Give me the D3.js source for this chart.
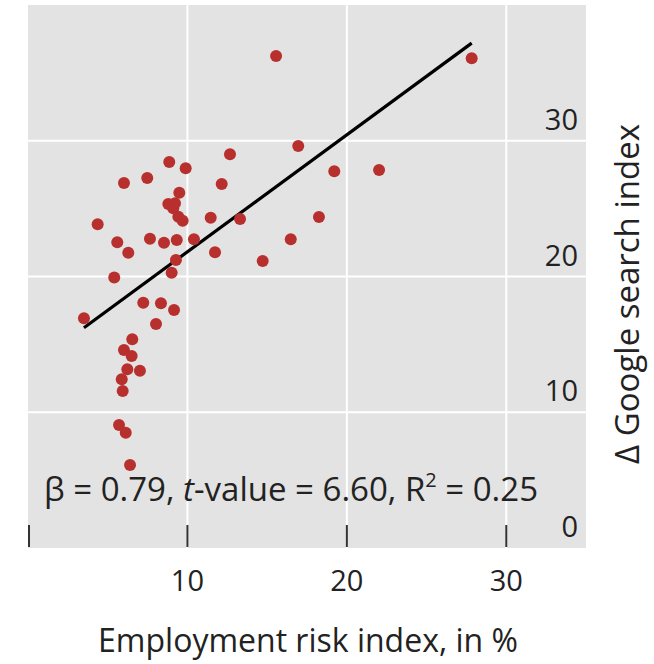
<!DOCTYPE html>
<html>
<head>
<meta charset="utf-8">
<script src="https://cdn.jsdelivr.net/npm/d3@7"></script>
<style>
  html, body { margin: 0; padding: 0; background: #fff; }
  svg { display: block; font-family: "Open Sans", "Noto Sans", sans-serif; }
</style>
</head>
<body>
<svg id="chart" width="654" height="664"></svg>
<script>
// Employment risk index (%) per region
const riskIndex = [
  15.56, 16.95, 12.67, 8.86, 9.89, 6.02, 7.48, 12.15, 9.49, 8.80,
  9.22, 9.11, 9.43, 9.70, 4.37, 11.46, 13.30, 18.25, 5.60, 6.29,
  7.65, 8.53, 9.33, 10.41, 11.73, 16.48, 14.72, 9.28, 9.01, 5.41,
  27.83, 19.21, 22.02, 3.51, 7.23, 8.34, 9.16, 8.03, 6.54, 6.02,
  6.50, 6.23, 7.02, 5.88, 5.94, 5.71, 6.13, 6.40
];
// Change in Google search index per region
const searchDelta = [
  36.24, 29.61, 29.00, 28.43, 27.97, 26.89, 27.26, 26.81, 26.17, 25.34,
  25.39, 25.02, 24.40, 24.11, 23.85, 24.33, 24.24, 24.39, 22.52, 21.75,
  22.78, 22.49, 22.69, 22.74, 21.78, 22.74, 21.14, 21.22, 20.28, 19.93,
  36.07, 27.75, 27.85, 16.92, 18.07, 18.03, 17.53, 16.50, 15.37, 14.59,
  14.14, 13.16, 13.06, 12.43, 11.57, 9.06, 8.49, 6.11
];

// Fitted regression line
const fitIntercept = 13.2;
const fitSlope = 0.862;

// Axis ticks and annotation text
const xTicks = [0, 10, 20, 30];
const xTickLabels = ["", "10", "20", "30"];
const yTicks = [0, 10, 20, 30];
const yTickLabels = ["0", "10", "20", "30"];
const xTitle = "Employment risk index, in %";
const yTitle = "\u0394 Google search index";
const statsBeta = "0.79";
const statsT = "6.60";
const statsR2 = "0.25";

const points = riskIndex.map((x, i) => ({ x, y: searchDelta[i] }));

const svg = d3.select("#chart");
const panel = { left: 28, right: 586, top: 5, bottom: 548 };

const x = d3.scaleLinear().domain([0, 35]).range([panel.left, panel.right]);
const y = d3.scaleLinear().domain([0, 40]).range([panel.bottom, panel.top]);

const textColor = "#222";

// Panel background
svg.append("rect")
  .attr("x", panel.left).attr("y", panel.top)
  .attr("width", panel.right - panel.left)
  .attr("height", panel.bottom - panel.top)
  .attr("fill", "#e3e3e3");

// Grid lines
svg.append("g").selectAll("line")
  .data(xTicks.filter(d => d > 0))
  .join("line")
  .attr("x1", d => x(d)).attr("x2", d => x(d))
  .attr("y1", panel.top).attr("y2", panel.bottom)
  .attr("stroke", "#fff").attr("stroke-width", 2);

svg.append("g").selectAll("line")
  .data(yTicks.filter(d => d > 0))
  .join("line")
  .attr("x1", panel.left).attr("x2", panel.right)
  .attr("y1", d => y(d)).attr("y2", d => y(d))
  .attr("stroke", "#fff").attr("stroke-width", 2);

// x tick marks drawn inside the panel
svg.append("g").selectAll("line")
  .data(xTicks)
  .join("line")
  .attr("x1", d => x(d) + (d === 0 ? 1 : 0))
  .attr("x2", d => x(d) + (d === 0 ? 1 : 0))
  .attr("y1", y(0) - 23).attr("y2", y(0) - 1)
  .attr("stroke", "#333").attr("stroke-width", 2);

// x tick labels
svg.append("g").selectAll("text")
  .data(xTicks)
  .join("text")
  .attr("x", d => x(d))
  .attr("y", 591)
  .attr("text-anchor", "middle")
  .attr("font-size", 29)
  .attr("fill", textColor)
  .text((d, i) => xTickLabels[i]);

// y tick labels sit inside the panel, just above each grid line
svg.append("g").selectAll("text")
  .data(yTicks)
  .join("text")
  .attr("x", 578)
  .attr("y", d => y(d) - 11)
  .attr("text-anchor", "end")
  .attr("font-size", 29)
  .attr("fill", textColor)
  .text((d, i) => yTickLabels[i]);

// Regression line across the observed range
const [xMin, xMax] = d3.extent(riskIndex);
const line = d3.line().x(d => x(d[0])).y(d => y(d[1]));
svg.append("path")
  .attr("d", line([[xMin, fitIntercept + fitSlope * xMin], [xMax, fitIntercept + fitSlope * xMax]]))
  .attr("stroke", "#000").attr("stroke-width", 3.2).attr("fill", "none");

// Observations
svg.append("g").selectAll("circle")
  .data(points)
  .join("circle")
  .attr("cx", d => x(d.x))
  .attr("cy", d => y(d.y))
  .attr("r", 6)
  .attr("fill", "#b8302d");

// Regression statistics
const stats = svg.append("text")
  .attr("x", 44).attr("y", 501)
  .attr("font-size", 33)
  .attr("fill", textColor);
stats.append("tspan").text(`\u03b2 = ${statsBeta}, `);
stats.append("tspan").attr("font-style", "italic").text("t");
stats.append("tspan").text(`-value = ${statsT}, R`);
stats.append("tspan").attr("font-size", 20).attr("dy", -14).text("2");
stats.append("tspan").attr("dy", 14).text(` = ${statsR2}`);

// Axis titles
svg.append("text")
  .attr("x", 308).attr("y", 652)
  .attr("text-anchor", "middle")
  .attr("font-size", 32)
  .attr("fill", textColor)
  .text(xTitle);

svg.append("text")
  .attr("transform", `translate(639, 294) rotate(-90)`)
  .attr("text-anchor", "middle")
  .attr("font-size", 33)
  .attr("fill", textColor)
  .text(yTitle);
</script>
</body>
</html>
